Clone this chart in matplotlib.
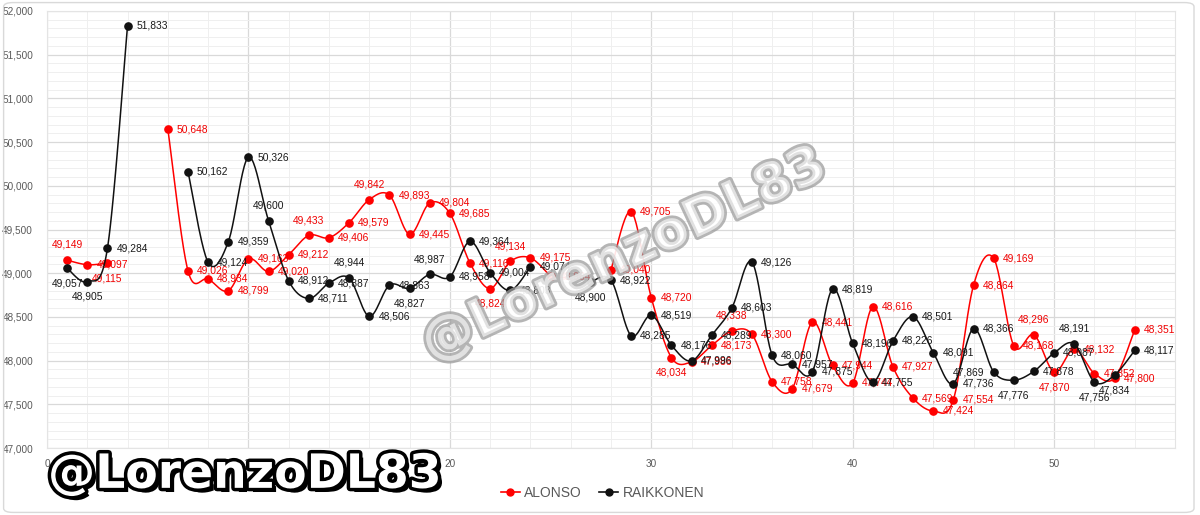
import numpy as np
import matplotlib
matplotlib.use("Agg")
import matplotlib.pyplot as plt
from matplotlib import patheffects as pe
from matplotlib.patches import FancyBboxPatch
from matplotlib.ticker import MultipleLocator, FuncFormatter
from matplotlib.lines import Line2D

# ---------------- data ----------------
alonso_laps = [1, 2, 3,
               6, 7, 8, 9, 10, 11, 12, 13, 14, 15, 16, 17, 18, 19, 20, 21, 22, 23, 24, 25,
               28, 29, 30, 31, 32, 33, 34, 35, 36, 37, 38, 39, 40, 41, 42, 43, 44, 45,
               46, 47, 48, 49, 50, 51, 52, 53, 54]
alonso_times = [49149, 49097, 49115,
                50648, 49026, 48934, 48799, 49163, 49020, 49212, 49433, 49406, 49579,
                49842, 49893, 49445, 49804, 49685, 49116, 48824, 49134, 49175, 48964,
                49040, 49705, 48720, 48034, 47986, 48173, 48338, 48300, 47758, 47679,
                48441, 47944, 47744, 48616, 47927, 47569, 47424, 47554,
                48864, 49169, 48168, 48296, 47870, 48132, 47852, 47800, 48351]

raikkonen_laps = [1, 2, 3, 4,
                  7, 8, 9, 10, 11, 12, 13, 14, 15, 16, 17, 18, 19, 20, 21, 22, 23, 24,
                  27, 28, 29, 30, 31, 32, 33, 34, 35, 36, 37, 38, 39, 40, 41, 42, 43, 44,
                  45, 46, 47, 48, 49, 50, 51, 52, 53, 54]
raikkonen_times = [49057, 48905, 49284, 51833,
                   50162, 49124, 49359, 50326, 49600, 48912, 48711, 48887, 48944, 48506,
                   48863, 48827, 48987, 48958, 49364, 49004, 48803, 49074,
                   48900, 48922, 48285, 48519, 48176, 47996, 48289, 48603, 49126, 48060,
                   47957, 47875, 48819, 48196, 47755, 48226, 48501, 48091,
                   47736, 48366, 47869, 47776, 47878, 48087, 48191, 47756, 47834, 48117]

series_names = ["ALONSO", "RAIKKONEN"]
y_ticks = [47000, 47500, 48000, 48500, 49000, 49500, 50000, 50500, 51000, 51500, 52000]
x_ticks = [0, 10, 20, 30, 40, 50]
watermark = "@LorenzoDL83"

# label placement (style): default is right of the marker
alonso_label_pos = {1: "above", 3: "below", 13: "above", 16: "above", 22: "below",
                    23: "above", 31: "below", 34: "above", 49: "above", 50: "below"}
raikkonen_label_pos = {1: "below", 2: "below", 11: "above", 15: "above", 18: "below",
                       19: "above", 27: "below", 47: "left", 48: "below", 51: "above",
                       52: "below", 53: "below"}

RED = "#ff0000"
BLACK = "#111111"
GRAY_TXT = "#595959"
FONT = "Liberation Sans"

# ---------------- figure ----------------
fig = plt.figure(figsize=(12, 5.15), dpi=100)
fig.patch.set_facecolor("white")
ax = fig.add_axes([47 / 1200, 1 - 448 / 515, (1175 - 47) / 1200, (448 - 11) / 515])
ax.set_xlim(0, 56)
ax.set_ylim(47000, 52000)

ax.xaxis.set_major_locator(MultipleLocator(10))
ax.xaxis.set_minor_locator(MultipleLocator(2))
ax.set_yticks(y_ticks)
ax.yaxis.set_minor_locator(MultipleLocator(100))
ax.set_xticks(x_ticks)
ax.yaxis.set_major_formatter(FuncFormatter(lambda v, p: f"{int(v):,}"))
ax.grid(which="major", color="#d9d9d9", lw=0.9)
ax.grid(which="minor", color="#efefef", lw=0.7)
ax.set_axisbelow(True)
ax.tick_params(which="both", length=0)
ax.tick_params(axis="y", pad=10, labelsize=7.2, labelcolor=GRAY_TXT)
ax.tick_params(axis="x", pad=8, labelsize=7.2, labelcolor=GRAY_TXT)
for lab in ax.get_xticklabels() + ax.get_yticklabels():
    lab.set_fontfamily(FONT)
for s in ax.spines.values():
    s.set_color("#e4e4e4")
    s.set_linewidth(0.8)


def smooth_segments(laps, vals):
    """Split into contiguous lap runs and build Excel-like smoothed curves in display space."""
    laps = np.asarray(laps, float)
    vals = np.asarray(vals, float)
    breaks = np.where(np.diff(laps) > 1)[0] + 1
    curves = []
    for idx in np.split(np.arange(len(laps)), breaks):
        pts = ax.transData.transform(np.column_stack([laps[idx], vals[idx]]))
        if len(pts) < 2:
            continue
        P = np.vstack([pts[0], pts, pts[-1]])
        out = []
        t = np.linspace(0, 1, 25)[:, None]
        for i in range(1, len(P) - 2):
            p0, p1, p2, p3 = P[i - 1], P[i], P[i + 1], P[i + 2]
            c1 = p1 + (p2 - p0) / 6.0
            c2 = p2 - (p3 - p1) / 6.0
            b = ((1 - t) ** 3) * p1 + 3 * ((1 - t) ** 2) * t * c1 + 3 * (1 - t) * t ** 2 * c2 + t ** 3 * p2
            out.append(b)
        curves.append(ax.transData.inverted().transform(np.vstack(out)))
    return curves


def draw_series(laps, vals, color, label_color, pos_map, z):
    for c in smooth_segments(laps, vals):
        ax.plot(c[:, 0], c[:, 1], color=color, lw=1.1, zorder=z, solid_capstyle="round")
    ax.plot(laps, vals, ls="none", marker="o", ms=5.2, color=color, zorder=z + 0.5)
    for lp, v in zip(laps, vals):
        pos = pos_map.get(lp, "right")
        if pos == "right":
            off, ha, va = (6.5, 0), "left", "center"
        elif pos == "left":
            off, ha, va = (-6.5, 0), "right", "center"
        elif pos == "above":
            off, ha, va = (0, 11), "center", "center"
        else:
            off, ha, va = (0, -11), "center", "center"
        ax.annotate(f"{v:,}", (lp, v), xytext=off, textcoords="offset points",
                    ha=ha, va=va, fontsize=7.4, color=label_color, family=FONT,
                    zorder=z + 1)


draw_series(alonso_laps, alonso_times, RED, "#f00000", alonso_label_pos, 3)
draw_series(raikkonen_laps, raikkonen_times, BLACK, "#1a1a1a", raikkonen_label_pos, 5)

# ---------------- watermarks ----------------
fig.text(0.520, 0.505, watermark, rotation=25, ha="center", va="center",
         fontsize=38, fontweight="bold", family="DejaVu Sans", color="white", alpha=0.6,
         zorder=20,
         path_effects=[pe.withStroke(linewidth=4, foreground="#9c9c9c", alpha=0.75)])
fig.text(0.040, 0.077, watermark, ha="left", va="center",
         fontsize=34, fontweight="bold", family="DejaVu Sans", color="white",
         zorder=21,
         path_effects=[pe.withSimplePatchShadow(offset=(3, -3), shadow_rgbFace="black", alpha=1),
                       pe.withStroke(linewidth=5, foreground="black")])

# ---------------- legend ----------------
handles = [Line2D([], [], color=RED, marker="o", ms=5, lw=1.2),
           Line2D([], [], color=BLACK, marker="o", ms=5, lw=1.2)]
leg = fig.legend(handles, series_names, loc="center", bbox_to_anchor=(0.502, 0.043),
                 ncol=2, frameon=False, handlelength=1.4, handletextpad=0.3,
                 columnspacing=1.2, prop={"family": FONT, "size": 10})
for txt in leg.get_texts():
    txt.set_color(GRAY_TXT)

# outer border
fig.patches.append(FancyBboxPatch((0.003, 0.005), 0.992, 0.99,
                                  boxstyle="round,pad=0,rounding_size=0.008",
                                  transform=fig.transFigure, fill=False,
                                  ec="#d9d9d9", lw=1.0, zorder=0))

fig.savefig("out.png", dpi=100)
